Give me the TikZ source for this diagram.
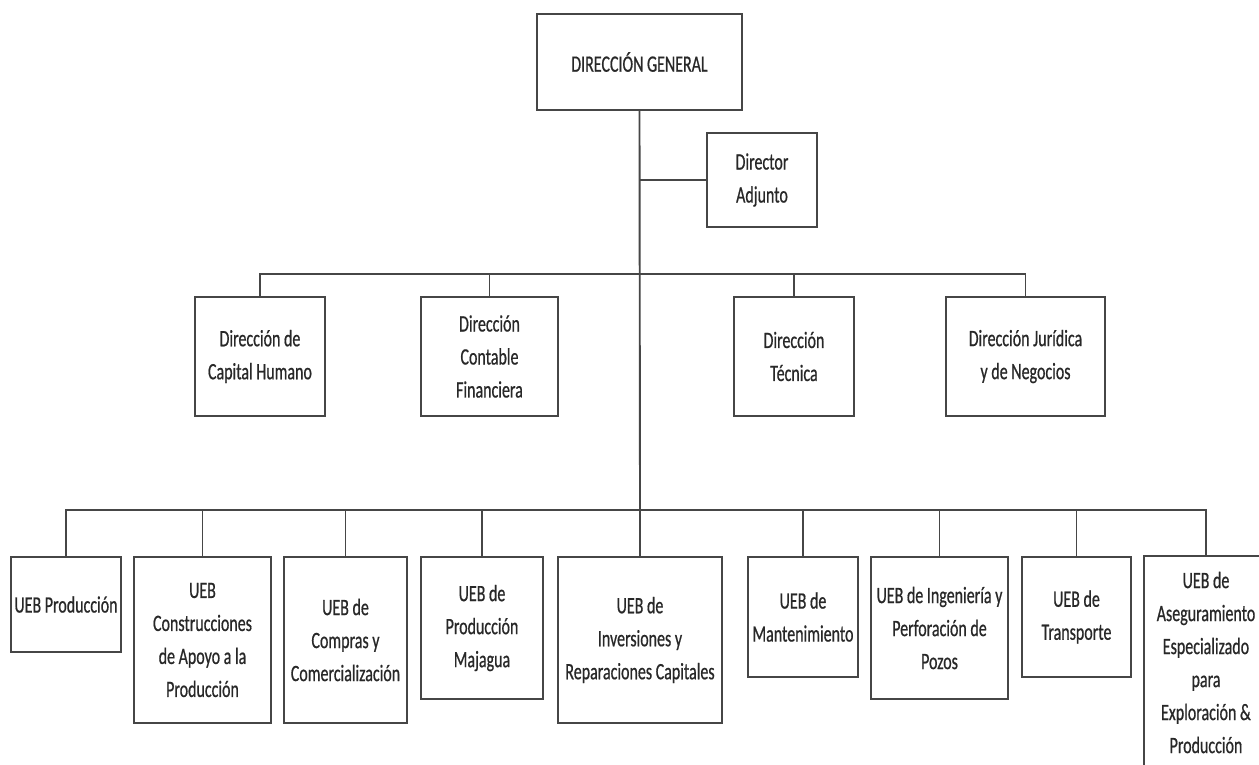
\documentclass[tikz,border=0pt]{standalone}
\usepackage{fontspec}
\setmainfont{Carlito}[FakeStretch=0.68,FakeBold=0.6]
\definecolor{linegray}{RGB}{70,70,70}
\definecolor{txtgray}{RGB}{40,40,40}
\newcommand\orgfont{\fontsize{23.5}{33}\selectfont}
\begin{document}
\begin{tikzpicture}[x=1pt,y=-1pt,
  box/.style={draw=linegray, line width=1.9pt, fill=white, inner sep=0pt,
              align=center, text=txtgray, font=\orgfont},
  wire/.style={draw=linegray, line width=1.9pt, line cap=rect}]
\clip (0,0) rectangle (1259,765);
\fill[white] (0,0) rectangle (1259,765);

% bus levels
\coordinate (busA) at (640,274);
\coordinate (busB) at (640,510);

% top of the chart
\node[box, minimum width=205, minimum height=96] (dg) at (639.5,62) {DIRECCIÓN GENERAL};
\node[box, minimum width=110, minimum height=94] (da) at (762,180) {Director\\Adjunto};

% directions
\node[box, minimum width=130, minimum height=119] (ch) at (260,356.5) {Dirección de\\Capital Humano};
\node[box, minimum width=137, minimum height=119] (cf) at (489.5,356.5) {Dirección\\Contable\\Financiera};
\node[box, minimum width=120, minimum height=119] (dt) at (794,356.5) {Dirección\\Técnica};
\node[box, minimum width=159, minimum height=119] (dj) at (1025.5,356.5) {Dirección Jurídica\\y de Negocios};

% business units
\node[box, minimum width=110, minimum height=95] (u1) at (66,604.5) {UEB Producción};
\node[box, minimum width=137, minimum height=166] (u2) at (202.5,640) {UEB\\Construcciones\\de Apoyo a la\\Producción};
\node[box, minimum width=123, minimum height=166] (u3) at (345.5,640) {UEB de\\Compras y\\Comercialización};
\node[box, minimum width=122, minimum height=142] (u4) at (482,628) {UEB de\\Producción\\Majagua};
\node[box, minimum width=164, minimum height=166] (u5) at (640,640) {UEB de\\Inversiones y\\Reparaciones Capitales};
\node[box, minimum width=110, minimum height=120] (u6) at (803,617) {UEB de\\Mantenimiento};
\node[box, minimum width=137, minimum height=142] (u7) at (939.5,628) {UEB de Ingeniería y\\Perforación de\\Pozos};
\node[box, minimum width=109, minimum height=120] (u8) at (1076.5,617) {UEB de\\Transporte};
\node[box, minimum width=124, minimum height=213] (u9) at (1206,662.5) {UEB de\\Aseguramiento\\Especializado\\para\\Exploración \&\\Producción};

% connectors
\draw[wire] (dg.south) -- (busB);
\draw[wire] (da.west) -- (da.west -| dg.south);
\draw[wire] (ch.north |- busA) -- (dj.north |- busA);
\foreach \n in {ch,cf,dt,dj}
  \draw[wire] (\n.north) -- (\n.north |- busA);
\draw[wire] (u1.north |- busB) -- (u9.north |- busB);
\foreach \n in {u1,u2,u3,u4,u5,u6,u7,u8,u9}
  \draw[wire] (\n.north) -- (\n.north |- busB);
\end{tikzpicture}
\end{document}
